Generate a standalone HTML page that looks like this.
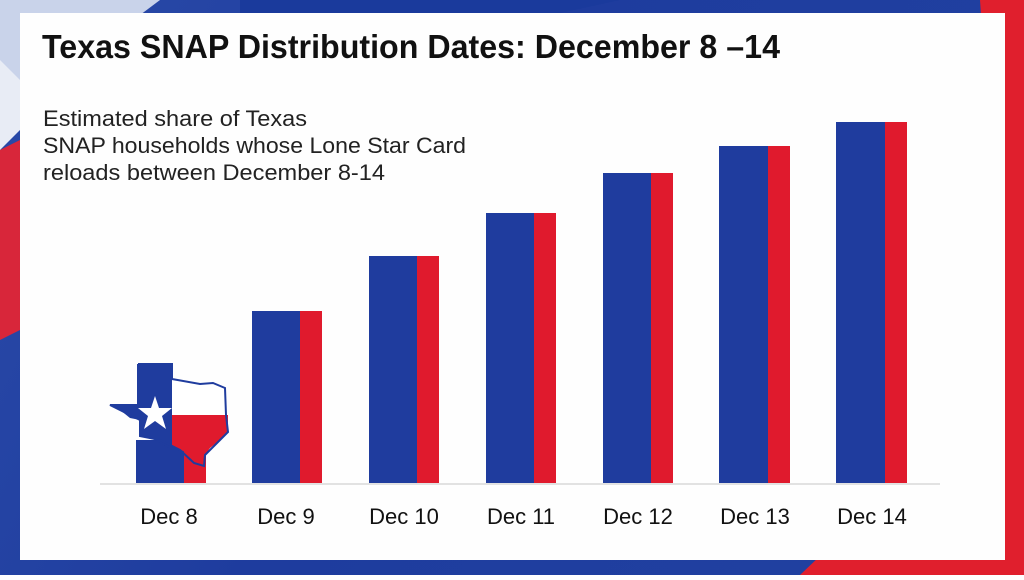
<!DOCTYPE html>
<html><head><style>
body{margin:0;width:1024px;height:575px;overflow:hidden;font-family:"Liberation Sans",sans-serif;}
svg text{font-family:"Liberation Sans",Arial,sans-serif;}
</style></head><body>
<svg width="1024" height="575" viewBox="0 0 1024 575" xmlns="http://www.w3.org/2000/svg">
<defs>
<linearGradient id="bg" x1="0" y1="0" x2="1" y2="0.3">
<stop offset="0" stop-color="#2a4aa8"/><stop offset="0.5" stop-color="#1e3c9e"/><stop offset="1" stop-color="#2040a0"/>
</linearGradient>
</defs>
<rect width="1024" height="575" fill="url(#bg)"/>
<polygon points="0,0 160,0 0,120" fill="#c9d3ea"/>
<polygon points="0,150 20,140 20,330 0,340" fill="#d8263a"/>
<polygon points="0,60 20,80 20,130 0,150" fill="#e8ecf5"/>
<polygon points="980,0 1024,0 1024,575 800,575 1005,380" fill="#e01f2d"/>
<polygon points="240,0 620,0 560,13 240,13" fill="#1a3a9c"/>
<rect x="20" y="13" width="985" height="547" fill="#fefefe"/>
<text x="42" y="58" font-size="33" font-weight="bold" fill="#111" textLength="738" lengthAdjust="spacingAndGlyphs">Texas SNAP Distribution Dates: December 8 –14</text>
<g font-size="22" fill="#222">
<text x="43" y="126" textLength="264" lengthAdjust="spacingAndGlyphs">Estimated share of Texas</text>
<text x="43" y="153" textLength="423" lengthAdjust="spacingAndGlyphs">SNAP households whose Lone Star Card</text>
<text x="43" y="180" textLength="342" lengthAdjust="spacingAndGlyphs">reloads between December 8-14</text>
</g>
<line x1="100" y1="484" x2="940" y2="484" stroke="#e2e2e2" stroke-width="2"/>
<g>
<rect x="136" y="440" width="48" height="43" fill="#1f3c9e"/><rect x="184" y="440" width="22" height="43" fill="#e01a2d"/>
<rect x="252" y="311" width="48" height="172" fill="#1f3c9e"/><rect x="300" y="311" width="22" height="172" fill="#e01a2d"/>
<rect x="369" y="256" width="48" height="227" fill="#1f3c9e"/><rect x="417" y="256" width="22" height="227" fill="#e01a2d"/>
<rect x="486" y="213" width="48" height="270" fill="#1f3c9e"/><rect x="534" y="213" width="22" height="270" fill="#e01a2d"/>
<rect x="603" y="173" width="48" height="310" fill="#1f3c9e"/><rect x="651" y="173" width="22" height="310" fill="#e01a2d"/>
<rect x="719" y="146" width="49" height="337" fill="#1f3c9e"/><rect x="768" y="146" width="22" height="337" fill="#e01a2d"/>
<rect x="836" y="122" width="49" height="361" fill="#1f3c9e"/><rect x="885" y="122" width="22" height="361" fill="#e01a2d"/>
</g>
<polygon points="172,364 172,379 200,384 213,383 225,388 226,415 172,415" fill="#fff"/>
<polygon points="138,364 172,364 172,450 155,440 140,436 140,420 130,418 120,410 110,405 138,405" fill="#1f3c9e"/>
<polygon points="172,415 228,415 228,432 220,440 210,448 203,458 204,466 194,463 185,452 172,445" fill="#e01a2d"/>
<polyline points="138,364 172,364 172,379 200,384 213,383 225,388 226,415 228,432 218,442 205,455 204,466 194,463 180,450 160,440 140,436 140,420 120,410 110,405 138,405 138,364" fill="none" stroke="#1f3c9e" stroke-width="2"/>
<polygon points="155,396 159,408 172,408 162,416 166,429 155,421 144,429 148,416 138,408 151,408" fill="#fff"/>
<g font-size="22" fill="#111" text-anchor="middle">
<text x="169" y="524">Dec 8</text>
<text x="286" y="524">Dec 9</text>
<text x="404" y="524">Dec 10</text>
<text x="521" y="524">Dec 11</text>
<text x="638" y="524">Dec 12</text>
<text x="755" y="524">Dec 13</text>
<text x="872" y="524">Dec 14</text>
</g>
</svg>
</body></html>
